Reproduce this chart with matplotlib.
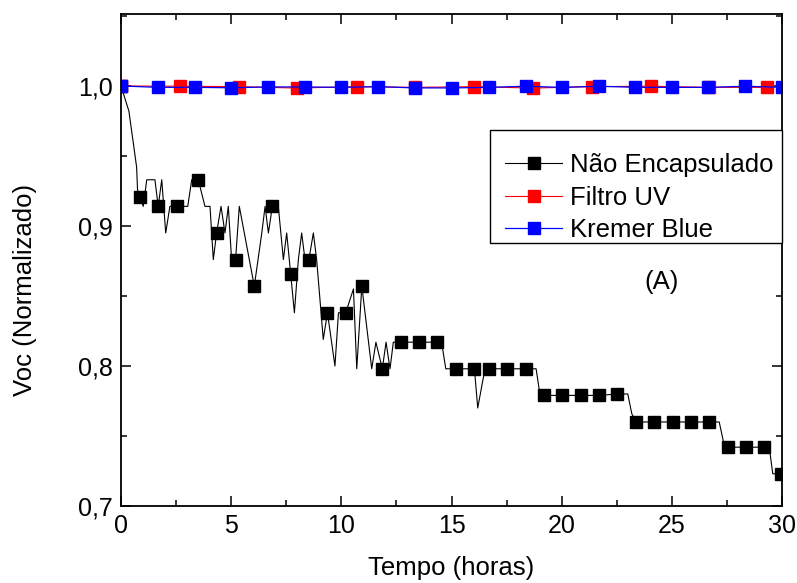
import matplotlib
matplotlib.use('Agg')
import matplotlib.pyplot as plt
from matplotlib.patches import Rectangle
from matplotlib.ticker import MultipleLocator, FuncFormatter

plt.rcParams['font.family'] = ['Liberation Sans', 'DejaVu Sans']

# Nao Encapsulado - line vertices (horas, Voc normalizado)
t_nao = [0, 0.36, 0.71, 0.75, 0.86, 1.01, 1.17, 1.54, 1.69, 1.85, 2.03, 2.22, 2.53,
         3.03, 3.21, 3.51, 3.81, 4.04, 4.19, 4.34, 4.54, 4.72, 4.87, 5.02, 5.2,
         5.37, 6.05, 6.39, 6.54, 6.69, 6.87, 7.14, 7.37, 7.52, 7.7, 7.87, 8.05,
         8.2, 8.35, 8.53, 8.73, 8.88, 9.18, 9.37, 9.71, 9.87, 10.2, 10.55, 10.7,
         10.93, 11.38, 11.57, 11.86, 12.03, 12.21, 12.36, 12.7, 13.53, 14.36,
         14.56, 14.74, 15.19, 16.04, 16.19, 16.52, 16.72, 17.54, 18.37, 18.84,
         19.02, 19.2, 20.03, 20.87, 21.7, 22.53, 23.0, 23.18, 23.38, 24.19,
         25.04, 25.86, 26.7, 27.15, 27.34, 27.54, 28.37, 29.2, 29.42, 29.58,
         29.95, 30]
v_nao = [1.0, 0.982, 0.942, 0.926, 0.921, 0.914, 0.933, 0.933, 0.914, 0.933, 0.895, 0.914, 0.914,
         0.914, 0.933, 0.933, 0.914, 0.914, 0.876, 0.895, 0.914, 0.895, 0.914, 0.876, 0.876,
         0.914, 0.857, 0.895, 0.914, 0.895, 0.914, 0.914, 0.876, 0.895, 0.866, 0.838, 0.876,
         0.895, 0.876, 0.876, 0.895, 0.876, 0.819, 0.838, 0.800, 0.838, 0.838, 0.855, 0.798,
         0.857, 0.798, 0.817, 0.798, 0.817, 0.798, 0.817, 0.817, 0.817, 0.817,
         0.816, 0.798, 0.798, 0.798, 0.770, 0.798, 0.798, 0.798, 0.798, 0.798,
         0.779, 0.779, 0.779, 0.779, 0.779, 0.780, 0.780, 0.766, 0.760, 0.760,
         0.760, 0.760, 0.760, 0.760, 0.746, 0.742, 0.742, 0.742, 0.742, 0.723,
         0.723, 0.723]
# symbols of Nao Encapsulado
tm_nao = [0, 0.86, 1.69, 2.53, 3.51, 4.34, 5.2, 6.05, 6.87, 7.7, 8.53, 9.37, 10.2,
          10.93, 11.86, 12.7, 13.53, 14.36, 15.19, 16.04, 16.72, 17.54, 18.37,
          19.2, 20.03, 20.87, 21.7, 22.53, 23.38, 24.19, 25.04, 25.86, 26.7,
          27.54, 28.37, 29.2, 29.95]
vm_nao = [1.0, 0.921, 0.914, 0.914, 0.933, 0.895, 0.876, 0.857, 0.914, 0.866, 0.876, 0.838, 0.838,
          0.857, 0.798, 0.817, 0.817, 0.817, 0.798, 0.798, 0.798, 0.798, 0.798,
          0.779, 0.779, 0.779, 0.779, 0.780, 0.760, 0.760, 0.760, 0.760, 0.760,
          0.742, 0.742, 0.742, 0.723]

t_uv = [0, 2.68, 5.36, 7.97, 10.7, 13.36, 16.0, 18.69, 21.36, 24.04, 26.7, 29.3]
v_uv = [1.0, 0.9998, 0.9995, 0.9985, 0.9995, 0.999, 0.9995, 0.9985, 0.9995, 0.9998, 0.999, 0.999]

t_kb = [0, 1.68, 3.34, 5.0, 6.67, 8.35, 10.0, 11.67, 13.36, 15.02, 16.7, 18.36,
        20.0, 21.7, 23.35, 25.0, 26.66, 28.33, 30]
v_kb = [1.0, 0.999, 0.999, 0.9987, 0.9993, 0.9993, 0.999, 0.9995, 0.9986, 0.9986, 0.999, 0.9998,
        0.999, 0.9998, 0.999, 0.999, 0.999, 0.9998, 0.999]

fig = plt.figure(figsize=(7.97, 5.83), dpi=100)
ax = fig.add_axes([0.1518, 0.1321, 0.8294, 0.8439])

l1, = ax.plot(t_nao, v_nao, '-', color='black', lw=0.8)
m1, = ax.plot(tm_nao, vm_nao, 's', color='black', ms=8, ls='none')
l2, = ax.plot(t_uv, v_uv, 's-', color='red', lw=0.8, ms=8)
l3, = ax.plot(t_kb, v_kb, 's-', color='blue', lw=0.9, ms=8)

ax.set_xlim(0, 30)
ax.set_ylim(0.7, 1.0514)
ax.xaxis.set_major_locator(MultipleLocator(5))
ax.xaxis.set_minor_locator(MultipleLocator(2.5))
ax.yaxis.set_major_locator(MultipleLocator(0.1))
ax.yaxis.set_minor_locator(MultipleLocator(0.05))
ax.yaxis.set_major_formatter(FuncFormatter(lambda v, p: ('%.1f' % v).replace('.', ',')))
ax.tick_params(which='both', direction='in', top=True, right=True, labelsize=18, width=1.1)
ax.tick_params(which='major', length=7, pad=6)
ax.tick_params(which='minor', length=4)
for s in ax.spines.values():
    s.set_linewidth(1.3)

ax.set_xlabel('Tempo (horas)', fontsize=18.5)
ax.set_ylabel('Voc (Normalizado)', fontsize=18.5)
ax.xaxis.set_label_coords(0.5, -0.101)
ax.yaxis.set_label_coords(-0.127, 0.439)

# legend (frame drawn separately, white box hides the right-side tick)
proxy1 = plt.Line2D([], [], color='black', lw=0.8, marker='s', ms=8)
leg = ax.legend([proxy1, l2, l3], ['Não Encapsulado', 'Filtro UV', 'Kremer Blue'],
                loc='upper left', bbox_to_anchor=(0.581, 0.7176), borderaxespad=0,
                fontsize=18.5, frameon=False, handlelength=2.22, handletextpad=0.31,
                labelspacing=0.34, borderpad=0)
leg.set_zorder(6)
ax.add_patch(Rectangle((0.5582, 0.5346), 0.4418, 0.2296, transform=ax.transAxes,
                       facecolor='white', edgecolor='black', lw=1.0, clip_on=False, zorder=5))

ax.text(24.55, 0.86, '(A)', fontsize=18.5, ha='center', va='center')

fig.savefig('out.png', dpi=100)
